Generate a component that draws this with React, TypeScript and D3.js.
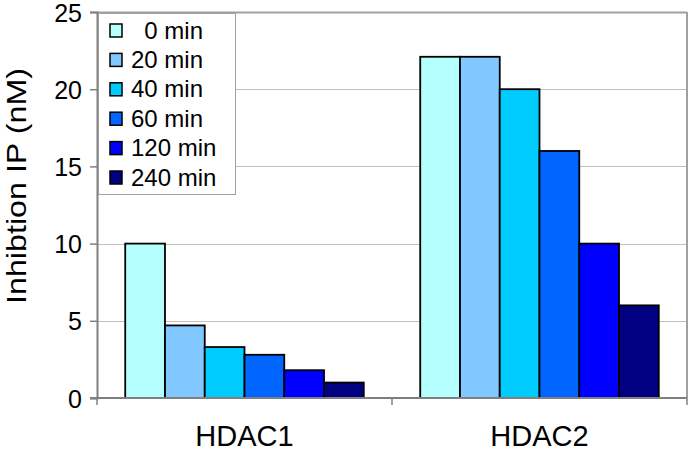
import { useEffect, useRef } from "react"
import * as d3 from "d3"

const categories = ["HDAC1", "HDAC2"]
const seriesNames = ["0 min", "20 min", "40 min", "60 min", "120 min", "240 min"]
const legendLabels = ["  0 min", "20 min", "40 min", "60 min", "120 min", "240 min"]
// one row per series, one value per category
const hdac1Values = [10, 4.7, 3.3, 2.8, 1.8, 1.0]
const hdac2Values = [22.1, 22.1, 20, 16, 10, 6]
const yTicks = [0, 5, 10, 15, 20, 25]
const colors = ["#b5ffff", "#80c8ff", "#00ccff", "#0066ff", "#0000ff", "#000080"]

export default function App() {
  const svgRef = useRef<SVGSVGElement | null>(null)

  useEffect(() => {
    if (!svgRef.current) return

    const width = 689
    const height = 452
    const margin = { top: 12, right: 2, bottom: 54, left: 97 }
    const font = "'Liberation Sans', Arial, sans-serif"

    const svg = d3.select(svgRef.current).attr("width", width).attr("height", height)
    svg.selectAll("*").remove()

    const table = categories.map((c, i) => ({
      category: c,
      values: seriesNames.map((s, j) => ({ series: s, value: [hdac1Values, hdac2Values][i][j], idx: j })),
    }))

    const x0 = d3
      .scaleBand<string>()
      .domain(categories)
      .range([margin.left, width - margin.right])

    const x1 = d3
      .scaleBand<string>()
      .domain(seriesNames)
      .range([0, x0.bandwidth()])
      .paddingOuter(0.71)

    const y = d3
      .scaleLinear()
      .domain([0, 25])
      .range([height - margin.bottom, margin.top])

    // gridlines
    svg
      .append("g")
      .selectAll("line")
      .data(yTicks.filter(t => t > 0))
      .join("line")
      .attr("x1", margin.left)
      .attr("x2", width - margin.right)
      .attr("y1", d => Math.round(y(d)) + 0.5)
      .attr("y2", d => Math.round(y(d)) + 0.5)
      .attr("stroke", d => (d === 25 ? "#a0a0a0" : "#c0c0c0"))
      .attr("stroke-width", d => (d === 25 ? 2 : 1))

    // right border
    svg
      .append("line")
      .attr("x1", width - margin.right)
      .attr("x2", width - margin.right)
      .attr("y1", y(25))
      .attr("y2", y(0))
      .attr("stroke", "#a0a0a0")
      .attr("stroke-width", 2)

    // bars
    svg
      .append("g")
      .selectAll("g")
      .data(table)
      .join("g")
      .attr("transform", d => `translate(${x0(d.category)},0)`)
      .selectAll("rect")
      .data(d => d.values)
      .join("rect")
      .attr("x", d => x1(d.series) ?? 0)
      .attr("width", x1.bandwidth())
      .attr("y", d => y(d.value))
      .attr("height", d => y(0) - y(d.value))
      .attr("fill", d => colors[d.idx])
      .attr("stroke", "#000")
      .attr("stroke-width", 1.8)

    // y axis
    const yAxis = svg
      .append("g")
      .attr("transform", `translate(${margin.left},0)`)
      .call(d3.axisLeft(y).tickValues(yTicks).tickSize(7).tickPadding(8))
    yAxis.select(".domain").attr("stroke", "#808080").attr("stroke-width", 2)
    yAxis.selectAll(".tick line").attr("stroke", "#808080").attr("stroke-width", 1.5)
    yAxis
      .selectAll(".tick text")
      .attr("font-family", font)
      .attr("font-size", 25)
      .attr("dy", "0.36em")
      .attr("fill", "#000")

    // x axis
    const xAxis = svg.append("g").attr("transform", `translate(0,${y(0)})`)
    xAxis
      .append("line")
      .attr("x1", margin.left - 7)
      .attr("x2", width - margin.right)
      .attr("stroke", "#808080")
      .attr("stroke-width", 2)
    xAxis
      .selectAll("line.sep")
      .data([...categories.map(c => x0(c) ?? 0), width - margin.right])
      .join("line")
      .attr("class", "sep")
      .attr("x1", d => d)
      .attr("x2", d => d)
      .attr("y1", 0)
      .attr("y2", 7)
      .attr("stroke", "#808080")
      .attr("stroke-width", 1.5)
    xAxis
      .selectAll("text")
      .data(categories)
      .join("text")
      .attr("x", d => (x0(d) ?? 0) + x0.bandwidth() / 2)
      .attr("y", 48)
      .attr("text-anchor", "middle")
      .attr("font-family", font)
      .attr("font-size", 29)
      .text(d => d)

    // y axis title
    svg
      .append("text")
      .attr("transform", `translate(26,${186}) rotate(-90)`)
      .attr("text-anchor", "middle")
      .attr("font-family", font)
      .attr("font-size", 28)
      .attr("textLength", 236)
      .attr("lengthAdjust", "spacingAndGlyphs")
      .text("Inhibtion IP (nM)")

    // legend
    const legend = svg.append("g")
    legend
      .append("rect")
      .attr("x", 98.5)
      .attr("y", 13.5)
      .attr("width", 137)
      .attr("height", 181)
      .attr("fill", "#fff")
      .attr("stroke", "#a0a0a0")
      .attr("stroke-width", 1)
    const rows = legend
      .selectAll("g.row")
      .data(legendLabels)
      .join("g")
      .attr("class", "row")
      .attr("transform", (_, i) => `translate(0,${30 + i * 29.4})`)
    rows
      .append("rect")
      .attr("x", 110)
      .attr("y", -6)
      .attr("width", 12)
      .attr("height", 13)
      .attr("fill", (_, i) => colors[i])
      .attr("stroke", "#000")
      .attr("stroke-width", 1.5)
    rows
      .append("text")
      .attr("x", 131)
      .attr("dy", "0.36em")
      .attr("font-family", font)
      .attr("font-size", 24)
      .style("white-space", "pre")
      .text(d => d)
  }, [])

  return (
    <div style={{ position: "absolute", left: 0, top: 0 }}>
      <svg ref={svgRef} style={{ display: "block" }} />
    </div>
  )
}
